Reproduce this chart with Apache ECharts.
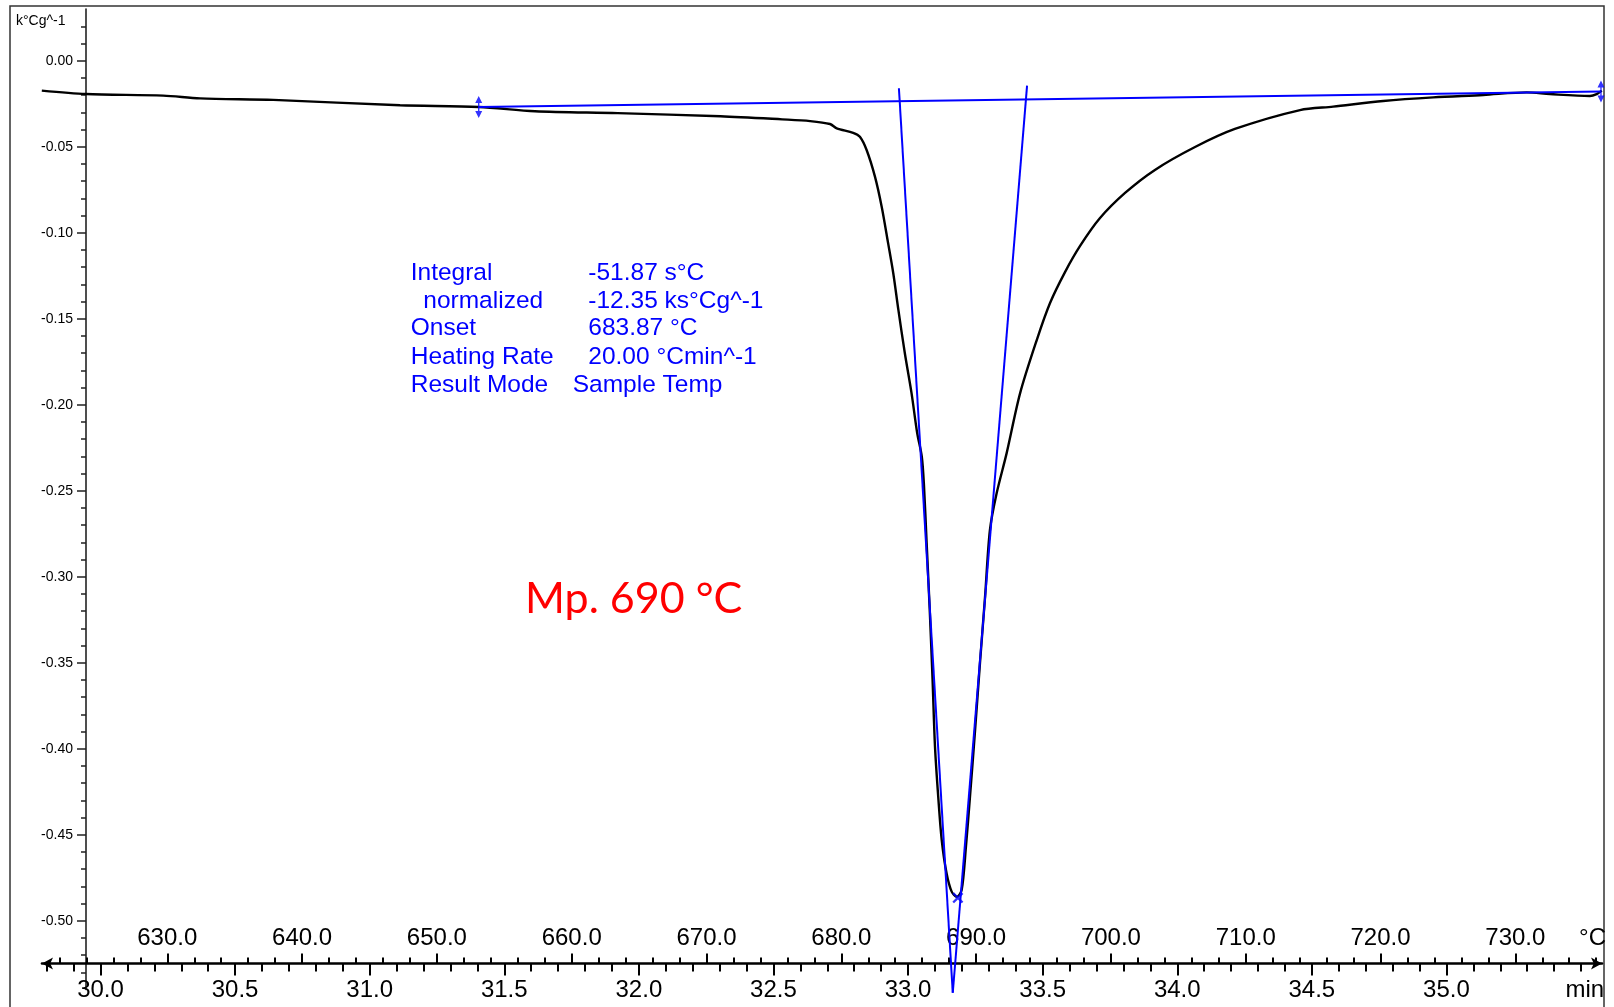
<!DOCTYPE html>
<html>
<head>
<meta charset="utf-8">
<script src="https://cdn.jsdelivr.net/npm/echarts@6/dist/echarts.min.js"></script>
<style>html,body{margin:0;padding:0;background:#fff}#c{width:1614px;height:1007px}</style>
</head>
<body>
<div id="c"></div>
<script>
// ---------- data (time in min, heat flow in k°Cg^-1) ----------
const timeMin = [29.782, 29.946, 30.233, 30.370, 30.642, 31.113, 31.405, 31.614, 31.921, 32.303,
  32.532, 32.636, 32.710, 32.735, 32.796, 32.821, 32.846, 32.877, 32.902, 32.926,
  32.945, 32.964, 32.988, 33.013, 33.034, 33.051, 33.059, 33.069, 33.081, 33.091,
  33.100, 33.112, 33.125, 33.143, 33.162, 33.181, 33.199, 33.215, 33.230, 33.249,
  33.267, 33.286, 33.304, 33.329, 33.366, 33.416, 33.478, 33.527, 33.583, 33.639,
  33.713, 33.806, 33.917, 34.066, 34.214, 34.456, 34.579, 34.765, 34.951, 35.137,
  35.298, 35.384, 35.533, 35.558, 35.577];
const heatFlow = [-0.0174, -0.0194, -0.0203, -0.0219, -0.0228, -0.0259, -0.0269, -0.0294, -0.0305, -0.0323,
  -0.0341, -0.0351, -0.0368, -0.0393, -0.0419, -0.0442, -0.0519, -0.0674, -0.0849, -0.1062,
  -0.1236, -0.1449, -0.1701, -0.1934, -0.2166, -0.2302, -0.2467, -0.2804, -0.3213, -0.3601,
  -0.3988, -0.4279, -0.4531, -0.4724, -0.4831, -0.4861, -0.4822, -0.4570, -0.4279, -0.3891,
  -0.3504, -0.3116, -0.2729, -0.2515, -0.2283, -0.1934, -0.1624, -0.1410, -0.1229, -0.1077,
  -0.0915, -0.0769, -0.0635, -0.0502, -0.0397, -0.0287, -0.0267, -0.0234, -0.0213, -0.0199,
  -0.0184, -0.0194, -0.0205, -0.0194, -0.0174];

const baselineTime = [31.405, 35.574];
const baselineFlow = [-0.0269, -0.0179];
const tangentLeftTime = [32.966, 33.166];
const tangentLeftFlow = [-0.0160, -0.5419];
const tangentRightTime = [33.442, 33.166];
const tangentRightFlow = [-0.0145, -0.5419];
const peakTime = [33.185];
const peakFlow = [-0.4867];

// ---------- tick labels ----------
const timeTickLabels = [30.0, 30.5, 31.0, 31.5, 32.0, 32.5, 33.0, 33.5, 34.0, 34.5, 35.0];
const tempTickLabels = [630, 640, 650, 660, 670, 680, 690, 700, 710, 720, 730];
const flowTickLabels = [0.00, -0.05, -0.10, -0.15, -0.20, -0.25, -0.30, -0.35, -0.40, -0.45, -0.50];
const timeUnit = 'min';
const tempUnit = '°C';
const flowUnit = 'k°Cg^-1';

const resultNames = ['Integral', 'normalized', 'Onset', 'Heating Rate', 'Result Mode'];
const resultValues = ['-51.87 s°C', '-12.35 ks°Cg^-1', '683.87 °C', '20.00 °Cmin^-1', 'Sample Temp'];
const meltText = 'Mp. 690 °C';

// ---------- axis ranges ----------
const T_MIN = 29.7827, T_MAX = 35.5778;
const C_MIN = 620.705, C_MAX = 736.43;
const Y_MIN = -0.54, Y_MAX = 0.03;
const MIN_LABEL_AT = 35.514, DEG_LABEL_AT = 735.73;

const timeMinor = []; for (let i = 298; i <= 355; i++) timeMinor.push(i / 10);
const tempMinor = []; for (let i = 622; i <= 736; i += 2) tempMinor.push(i);
const flowMinor = []; for (let i = 2; i >= -53; i--) flowMinor.push(i / 100);

const FONT = "'Liberation Sans', Arial, sans-serif";
const BLUE = '#0000ff';

const chart = echarts.init(document.getElementById('c'), null, {renderer: 'canvas', width: 1614, height: 1007});

const pairs = (xs, ys) => xs.map((x, i) => [x, ys[i]]);

const hiddenAxisBase = {show: false, type: 'value', splitLine: {show: false}, axisLine: {onZero: false}};

const graphics = [
  {type: 'rect', shape: {x: 10, y: 6, width: 1594, height: 1010}, style: {fill: 'none', stroke: '#333', lineWidth: 1.5}, silent: true, z: 0}
];
const nameX = [410.7, 423.3, 410.7, 410.7, 410.7];
const valueX = [588.3, 588.3, 588.3, 588.3, 572.7];
const rowY = [273.5, 301, 328.5, 357, 385];
resultNames.forEach((n, i) => {
  graphics.push({type: 'text', x: nameX[i], y: rowY[i], style: {text: n, fill: BLUE, font: '24.5px ' + FONT, verticalAlign: 'middle', align: 'left'}, silent: true, z: 10});
  graphics.push({type: 'text', x: valueX[i], y: rowY[i], style: {text: resultValues[i], fill: BLUE, font: '24.5px ' + FONT, verticalAlign: 'middle', align: 'left'}, silent: true, z: 10});
});
graphics.push({type: 'text', x: 525, y: 599, style: {text: meltText, fill: '#ff0000', font: '43px Lato, "Noto Sans", sans-serif', verticalAlign: 'middle', align: 'left'}, silent: true, z: 10});

const option = {
  animation: false,
  backgroundColor: '#fff',
  title: {text: flowUnit, left: 16, top: 14, padding: 0,
    textStyle: {fontSize: 14, fontWeight: 'normal', color: '#000', fontFamily: FONT}},
  grid: [
    {left: 42, right: 12, top: 9.1, bottom: 17.5, containLabel: false, outerBoundsMode: 'none'},
    {left: 42, right: 12, top: 9.1, bottom: 43.5, containLabel: false, outerBoundsMode: 'none'}
  ],
  xAxis: [
    Object.assign({}, hiddenAxisBase, {gridIndex: 0, min: T_MIN, max: T_MAX}),
    { // time major
      gridIndex: 1, type: 'value', position: 'bottom', min: T_MIN, max: T_MAX,
      axisLine: {show: true, onZero: false, symbol: ['arrow', 'arrow'], symbolSize: [9, 11], lineStyle: {color: '#000', width: 2.6}},
      axisTick: {show: true, inside: false, length: 12, customValues: timeTickLabels, lineStyle: {color: '#000', width: 2}},
      axisLabel: {show: true, customValues: timeTickLabels.concat([MIN_LABEL_AT]), margin: 15, fontSize: 24, color: '#000', fontFamily: FONT,
        formatter: v => (Math.abs(v - MIN_LABEL_AT) < 1e-6 ? timeUnit : Number(v).toFixed(1))},
      splitLine: {show: false}
    },
    { // time minor
      gridIndex: 1, type: 'value', position: 'bottom', min: T_MIN, max: T_MAX,
      axisLine: {show: false, onZero: false},
      axisTick: {show: true, inside: false, length: 8, customValues: timeMinor, lineStyle: {color: '#000', width: 2}},
      axisLabel: {show: false}, splitLine: {show: false}
    },
    { // temperature major
      gridIndex: 1, type: 'value', position: 'bottom', min: C_MIN, max: C_MAX,
      axisLine: {show: false, onZero: false},
      axisTick: {show: true, inside: true, length: 10, customValues: tempTickLabels, lineStyle: {color: '#000', width: 2}},
      axisLabel: {show: true, inside: true, customValues: tempTickLabels.concat([DEG_LABEL_AT]), margin: 13, fontSize: 24, color: '#000', fontFamily: FONT,
        formatter: v => (Math.abs(v - DEG_LABEL_AT) < 1e-6 ? tempUnit : Number(v).toFixed(1))},
      splitLine: {show: false}
    },
    { // temperature minor
      gridIndex: 1, type: 'value', position: 'bottom', min: C_MIN, max: C_MAX,
      axisLine: {show: false, onZero: false},
      axisTick: {show: true, inside: true, length: 6, customValues: tempMinor, lineStyle: {color: '#000', width: 2}},
      axisLabel: {show: false}, splitLine: {show: false}
    }
  ],
  yAxis: [
    { // heat flow major
      gridIndex: 0, type: 'value', position: 'left', offset: -44, min: Y_MIN, max: Y_MAX,
      axisLine: {show: true, onZero: false, lineStyle: {color: '#222', width: 1.6}},
      axisTick: {show: true, inside: false, length: 9, customValues: flowTickLabels, lineStyle: {color: '#222', width: 1.5}},
      axisLabel: {show: true, customValues: flowTickLabels, margin: 13, fontSize: 14, color: '#000', fontFamily: FONT,
        formatter: v => Number(v).toFixed(2)},
      splitLine: {show: false}
    },
    { // heat flow minor
      gridIndex: 0, type: 'value', position: 'left', offset: -44, min: Y_MIN, max: Y_MAX,
      axisLine: {show: false, onZero: false},
      axisTick: {show: true, inside: false, length: 5, customValues: flowMinor, lineStyle: {color: '#222', width: 1.5}},
      axisLabel: {show: false}, splitLine: {show: false}
    },
    Object.assign({}, hiddenAxisBase, {gridIndex: 1, min: Y_MIN, max: Y_MAX})
  ],
  graphic: graphics,
  series: [
    {type: 'line', xAxisIndex: 0, yAxisIndex: 0, data: pairs(timeMin, heatFlow), symbol: 'none', smooth: 0.3,
      lineStyle: {color: '#000', width: 2.4}, silent: true, z: 3},
    {type: 'line', xAxisIndex: 0, yAxisIndex: 0, data: pairs(baselineTime, baselineFlow), symbol: 'none', clip: false,
      lineStyle: {color: BLUE, width: 2}, silent: true, z: 4},
    {type: 'line', xAxisIndex: 0, yAxisIndex: 0, data: pairs(tangentLeftTime, tangentLeftFlow), symbol: 'none', clip: false,
      lineStyle: {color: BLUE, width: 2}, silent: true, z: 4},
    {type: 'line', xAxisIndex: 0, yAxisIndex: 0, data: pairs(tangentRightTime, tangentRightFlow), symbol: 'none', clip: false,
      lineStyle: {color: BLUE, width: 2}, silent: true, z: 4},
    {type: 'scatter', xAxisIndex: 0, yAxisIndex: 0, data: pairs(baselineTime, baselineFlow), clip: false,
      symbol: 'path://M5,0 L10,7 L6,7 L6,15 L10,15 L5,22 L0,15 L4,15 L4,7 L0,7 Z', symbolSize: [7, 22],
      itemStyle: {color: BLUE}, silent: true, z: 5},
    {type: 'scatter', xAxisIndex: 0, yAxisIndex: 0, data: pairs(peakTime, peakFlow), clip: false,
      symbol: 'path://M0,1.5 L1.5,0 L5,3.5 L8.5,0 L10,1.5 L6.5,5 L10,8.5 L8.5,10 L5,6.5 L1.5,10 L0,8.5 L3.5,5 Z', symbolSize: 11,
      itemStyle: {color: BLUE}, silent: true, z: 5}
  ]
};
chart.setOption(option);
</script>
</body>
</html>
